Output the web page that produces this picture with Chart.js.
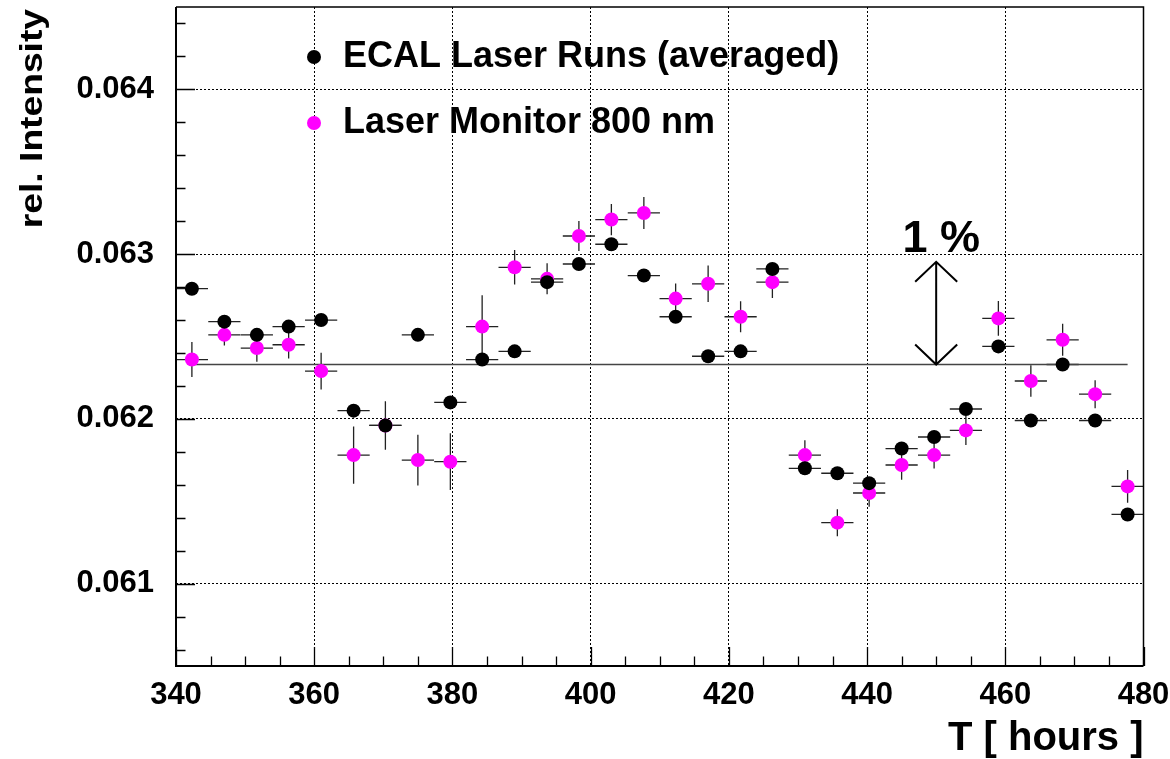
<!DOCTYPE html>
<html>
<head>
<meta charset="utf-8">
<script src="https://cdn.jsdelivr.net/npm/chart.js@4"></script>
<style>
html,body{margin:0;padding:0;background:#fff;}
#wrap{width:1170px;height:759px;position:relative;}
</style>
</head>
<body>
<div id="wrap"><canvas id="c" width="1170" height="759"></canvas></div>
<script>
// ---------------- data ----------------
const hours = [342.3, 347.0, 351.7, 356.3, 361.0, 365.7, 370.3, 375.0, 379.7, 384.3,
               389.0, 393.7, 398.3, 403.0, 407.7, 412.3, 417.0, 421.7, 426.3, 431.0,
               435.7, 440.3, 445.0, 449.7, 454.3, 459.0, 463.7, 468.3, 473.0, 477.7];
const hourHalfWidth = [2.33, 2.33, 2.33, 2.33, 2.33, 2.33, 2.33, 2.33, 2.33, 2.33,
                       2.33, 2.33, 2.33, 2.33, 2.33, 2.33, 2.33, 2.33, 2.33, 2.33,
                       2.33, 2.33, 2.33, 2.33, 2.33, 2.33, 2.33, 2.33, 2.33, 2.33];
const ecalLaserRuns = [0.06279, 0.06259, 0.06251, 0.06256, 0.06260, 0.06205, 0.06196, 0.06251, 0.06210, 0.06236,
                       0.06241, 0.06283, 0.06294, 0.06306, 0.06287, 0.06262, 0.06238, 0.06241, 0.06291, 0.06170,
                       0.06167, 0.06161, 0.06182, 0.06189, 0.06206, 0.06244, 0.06199, 0.06233, 0.06199, 0.06142];
const ecalErr = [0.00002, 0.00002, 0.00002, 0.00003, 0.00002, 0.00002, 0.00003, 0.00002, 0.00002, 0.00002,
                 0.00002, 0.00002, 0.00002, 0.00002, 0.00002, 0.00002, 0.00002, 0.00002, 0.00002, 0.00002,
                 0.00002, 0.00002, 0.00002, 0.00002, 0.00002, 0.00002, 0.00002, 0.00002, 0.00002, 0.00002];
const laserMonitor = [0.06236, 0.06251, 0.06243, 0.06245, 0.06229, 0.06178, 0.06196, 0.06175, 0.06174, 0.06256,
                      0.06292, 0.06285, 0.06311, 0.06321, 0.06325, 0.06273, 0.06282, 0.06262, 0.06283, 0.06178,
                      0.06137, 0.06155, 0.06172, 0.06178, 0.06193, 0.06261, 0.06223, 0.06248, 0.06215, 0.06159];
const laserMonitorErr = [0.000106, 0.000064, 0.000083, 0.000083, 0.000111, 0.000174, 0.000147, 0.000154, 0.000172, 0.000190,
                         0.000105, 0.000094, 0.000091, 0.000095, 0.000097, 0.000091, 0.000111, 0.000094, 0.000097, 0.000091,
                         0.000082, 0.000084, 0.000089, 0.000081, 0.000089, 0.000105, 0.000095, 0.000097, 0.000085, 0.000099];
const seriesNames = ['ECAL Laser Runs (averaged)', 'Laser Monitor 800 nm'];
const xTickLabels = [340, 360, 380, 400, 420, 440, 460, 480];
const yTickLabels = [0.061, 0.062, 0.063, 0.064];
const referenceLevel = 0.06233;
const arrowHour = 450;
const arrowPercent = 1;
const arrowLabel = '1 %';
const xTitle = 'T [ hours ]';
const yTitle = 'rel. Intensity';

// ---------------- styles ----------------
const FONT = "'Liberation Sans', Arial, Helvetica, sans-serif";
const BLACK = '#000000';
const MAGENTA = '#ff00ff';
const MINOR_X = 5, MINOR_Y = 0.0002;
const MARKER_R = 7;

function pts(ys) { return hours.map((h, i) => ({ x: h, y: ys[i] })); }

const errorBars = {
  id: 'errorBars',
  beforeDatasetsDraw(chart) {
    const xs = chart.scales.x, ys = chart.scales.y, ctx = chart.ctx;
    ctx.save();
    ctx.setLineDash([]);
    ctx.strokeStyle = '#222';
    ctx.lineWidth = 1.3;
    const sets = [[laserMonitor, laserMonitorErr], [ecalLaserRuns, ecalErr]];
    sets.forEach(([vals, errs]) => {
      hours.forEach((h, i) => {
        const px = xs.getPixelForValue(h);
        const py = ys.getPixelForValue(vals[i]);
        ctx.beginPath();
        ctx.moveTo(xs.getPixelForValue(h - hourHalfWidth[i]), py);
        ctx.lineTo(xs.getPixelForValue(h + hourHalfWidth[i]), py);
        ctx.moveTo(px, ys.getPixelForValue(vals[i] - errs[i]));
        ctx.lineTo(px, ys.getPixelForValue(vals[i] + errs[i]));
        ctx.stroke();
      });
    });
    ctx.restore();
  }
};

const decorations = {
  id: 'decorations',
  afterDraw(chart) {
    const ctx = chart.ctx, a = chart.chartArea;
    const xs = chart.scales.x, ys = chart.scales.y;
    ctx.save();
    ctx.setLineDash([]);
    // frame
    ctx.strokeStyle = BLACK;
    ctx.lineWidth = 1.5;
    ctx.beginPath();
    ctx.moveTo(a.left, a.top); ctx.lineTo(a.right, a.top); ctx.lineTo(a.right, a.bottom);
    ctx.stroke();
    ctx.lineWidth = 2;
    ctx.beginPath();
    ctx.moveTo(a.left, a.top); ctx.lineTo(a.left, a.bottom); ctx.lineTo(a.right, a.bottom);
    ctx.stroke();
    // inside tick marks
    ctx.lineWidth = 1.3;
    ctx.beginPath();
    for (let v = xs.min; v <= xs.max + 1e-9; v += MINOR_X) {
      const major = Math.abs(v / 20 - Math.round(v / 20)) < 1e-6;
      const px = Math.round(xs.getPixelForValue(v)) + 0.5;
      ctx.moveTo(px, a.bottom);
      ctx.lineTo(px, a.bottom - (major ? 19 : 9.5));
    }
    const y0 = Math.ceil(ys.min / MINOR_Y - 1e-6) * MINOR_Y;
    for (let k = 0; y0 + k * MINOR_Y <= ys.max + 1e-9; k++) {
      const v = y0 + k * MINOR_Y;
      const major = Math.abs(v * 1000 - Math.round(v * 1000)) < 1e-6;
      const py = Math.round(ys.getPixelForValue(v)) + 0.5;
      ctx.moveTo(a.left, py);
      ctx.lineTo(a.left + (major ? 19 : 9.5), py);
    }
    ctx.stroke();
    // 1% arrow
    const ax = xs.getPixelForValue(arrowHour);
    const yb = ys.getPixelForValue(referenceLevel);
    const yt = ys.getPixelForValue(referenceLevel * (1 + arrowPercent / 100));
    ctx.lineWidth = 2;
    ctx.beginPath();
    ctx.moveTo(ax, yb); ctx.lineTo(ax, yt);
    ctx.moveTo(ax - 21, yt + 20); ctx.lineTo(ax, yt); ctx.lineTo(ax + 21, yt + 20);
    ctx.moveTo(ax - 21, yb - 20); ctx.lineTo(ax, yb); ctx.lineTo(ax + 21, yb - 20);
    ctx.stroke();
    ctx.fillStyle = BLACK;
    ctx.font = 'bold 45px ' + FONT;
    ctx.textAlign = 'center';
    ctx.textBaseline = 'alphabetic';
    ctx.fillText(arrowLabel, ax + 5, yt - 10);
    // legend
    const colors = [BLACK, MAGENTA];
    const rowsY = [a.top + 50, a.top + 116];
    ctx.font = 'bold 36px ' + FONT;
    ctx.textAlign = 'left';
    ctx.textBaseline = 'middle';
    seriesNames.forEach((name, i) => {
      ctx.fillStyle = colors[i];
      ctx.beginPath();
      ctx.arc(a.left + 138, rowsY[i], MARKER_R, 0, Math.PI * 2);
      ctx.fill();
      ctx.fillStyle = BLACK;
      ctx.fillText(name, a.left + 167, rowsY[i]);
    });
    // y axis title (ROOT-style narrow glyphs, stretched along the text)
    ctx.save();
    ctx.translate(41.5, a.top + 2);
    ctx.rotate(-Math.PI / 2);
    ctx.scale(1.2, 1);
    ctx.font = 'bold 31px ' + FONT;
    ctx.textAlign = 'right';
    ctx.textBaseline = 'alphabetic';
    ctx.fillStyle = BLACK;
    ctx.fillText(yTitle, 0, 0);
    ctx.restore();
    ctx.restore();
  }
};

const isMajorY = v => yTickLabels.some(t => Math.abs(t - v) < 1e-9);
const isMajorX = v => xTickLabels.some(t => Math.abs(t - v) < 1e-9);
const noPad = s => { s.paddingTop = 0; s.paddingBottom = 0; s.paddingLeft = 0; s.paddingRight = 0; };

new Chart(document.getElementById('c'), {
  type: 'scatter',
  data: {
    datasets: [
      { label: seriesNames[0], data: pts(ecalLaserRuns), backgroundColor: BLACK, borderColor: BLACK,
        pointRadius: MARKER_R, pointBorderWidth: 0, pointHoverRadius: MARKER_R },
      { label: seriesNames[1], data: pts(laserMonitor), backgroundColor: MAGENTA, borderColor: MAGENTA,
        pointRadius: MARKER_R, pointBorderWidth: 0, pointHoverRadius: MARKER_R },
      { label: 'reference', data: [{ x: hours[0], y: referenceLevel }, { x: hours[hours.length - 1], y: referenceLevel }],
        showLine: true, borderColor: '#444', borderWidth: 1.3, pointRadius: 0, fill: false }
    ]
  },
  options: {
    responsive: false,
    animation: false,
    devicePixelRatio: 1,
    layout: { padding: { left: 0, top: 7, right: 26.5, bottom: 0 } },
    plugins: { legend: { display: false }, tooltip: { enabled: false } },
    scales: {
      x: {
        type: 'linear', min: 340, max: 480,
        afterBuildTicks: s => { s.ticks = xTickLabels.map(v => ({ value: v })); },
        afterFit: s => { s.height = 93; noPad(s); },
        ticks: { autoSkip: false, maxRotation: 0, padding: 11, color: BLACK,
                 font: { family: FONT, size: 31, weight: 'bold' },
                 callback: v => isMajorX(v) ? String(v) : '' },
        grid: { color: BLACK, lineWidth: 1, drawTicks: false },
        border: { display: false, dash: [2, 2] },
        title: { display: true, text: xTitle, align: 'end', color: BLACK,
                 font: { family: FONT, size: 40, weight: 'bold', lineHeight: 1 },
                 padding: { top: 0, bottom: 0 } }
      },
      y: {
        type: 'linear', min: 0.0605, max: 0.0645,
        afterBuildTicks: s => { s.ticks = yTickLabels.map(v => ({ value: v })); },
        afterFit: s => { s.width = 176; noPad(s); },
        ticks: { padding: 22, color: BLACK,
                 font: { family: FONT, size: 31, weight: 'bold' },
                 callback: v => isMajorY(v) ? v.toFixed(3) : '' },
        grid: { color: BLACK, lineWidth: 1, drawTicks: false },
        border: { display: false, dash: [2, 2] },
        title: { display: false, text: yTitle }
      }
    }
  },
  plugins: [errorBars, decorations]
});
</script>
</body>
</html>
